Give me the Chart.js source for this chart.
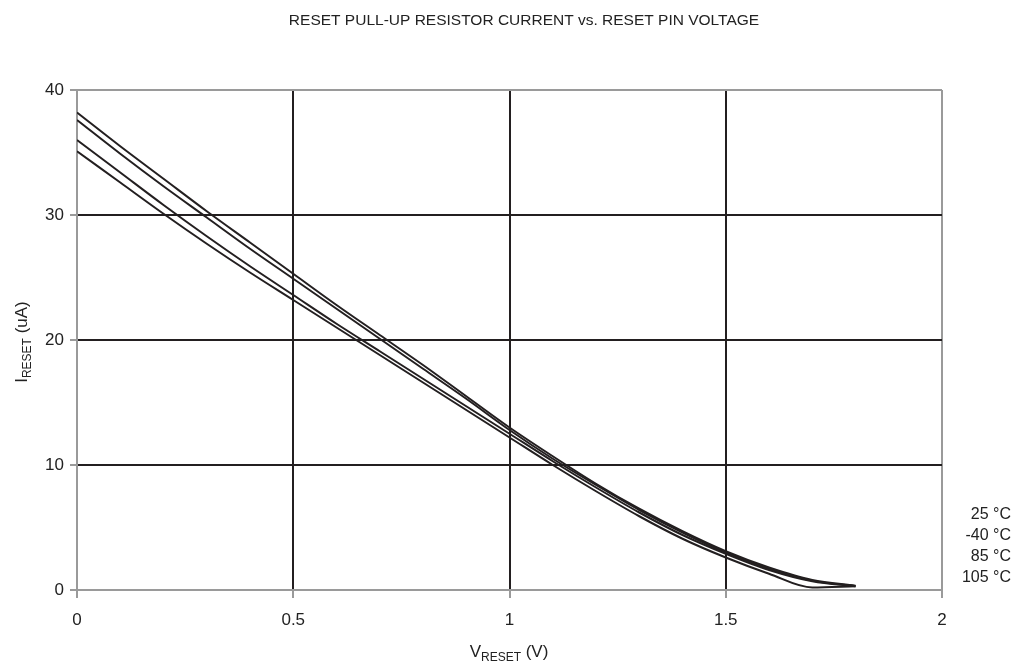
<!DOCTYPE html>
<html>
<head>
<meta charset="utf-8">
<script src="https://cdn.jsdelivr.net/npm/chart.js@4"></script>
<style>
  html, body { margin: 0; padding: 0; background: #fff; }
  #wrap { width: 1016px; height: 667px; position: relative; }
</style>
</head>
<body>
<div id="wrap"><canvas id="chart" width="1016" height="667"></canvas></div>
<script>
const chartTitle = 'RESET PULL-UP RESISTOR CURRENT vs. RESET PIN VOLTAGE';
const voltage = [0, 0.1, 0.2, 0.3, 0.4, 0.5, 0.6, 0.7, 0.8, 0.9, 1.0, 1.1, 1.2, 1.3, 1.4, 1.5, 1.6, 1.7, 1.8];
const seriesNames = ['25 °C', '-40 °C', '85 °C', '105 °C'];
const current25 = [37.6, 34.9, 32.3, 29.8, 27.3, 24.9, 22.5, 20.1, 17.7, 15.3, 12.8, 10.5, 8.4, 6.4, 4.6, 3.0, 1.7, 0.75, 0.3];
const currentM40 = [38.2, 35.5, 32.9, 30.3, 27.8, 25.3, 22.8, 20.4, 18.0, 15.5, 13.0, 10.7, 8.5, 6.5, 4.7, 3.1, 1.8, 0.8, 0.35];
const current85 = [36.0, 33.4, 30.8, 28.3, 25.9, 23.6, 21.3, 19.1, 16.9, 14.7, 12.5, 10.3, 8.2, 6.2, 4.4, 2.9, 1.6, 0.7, 0.3];
const current105 = [35.1, 32.6, 30.1, 27.7, 25.4, 23.2, 21.0, 18.8, 16.6, 14.4, 12.2, 10.0, 7.9, 5.9, 4.1, 2.6, 1.3, 0.2, 0.3];
const xTicks = [0, 0.5, 1, 1.5, 2];
const yTicks = [0, 10, 20, 30, 40];

const FONT = '"Liberation Sans", Arial, sans-serif';
const allSeries = [current25, currentM40, current85, current105];

// title, axis titles with subscripts, and the right-hand labels
const textPlugin = {
  id: 'texts',
  afterDraw(chart) {
    const ctx = chart.ctx;
    const area = chart.chartArea;
    ctx.save();
    ctx.fillStyle = '#222';
    ctx.textBaseline = 'alphabetic';

    ctx.font = `15.5px ${FONT}`;
    ctx.textAlign = 'center';
    ctx.fillText(chartTitle, 524, 25);

    // x axis title: V_RESET (V)
    const xParts = [['V', 17, 0], ['RESET', 12, 4], [' (V)', 17, 0]];
    drawParts(ctx, xParts, 509, 657);

    // y axis title, rotated
    ctx.translate(27, 342);
    ctx.rotate(-Math.PI / 2);
    const yParts = [['I', 17, 0], ['RESET', 12, 4], [' (uA)', 17, 0]];
    drawParts(ctx, yParts, 0, 0);
    ctx.setTransform(1, 0, 0, 1, 0, 0);

    ctx.font = `16px ${FONT}`;
    ctx.textAlign = 'right';
    seriesNames.forEach((name, i) => {
      ctx.fillText(name, 1011, 519 + i * 21);
    });
    ctx.restore();
  }
};

function drawParts(ctx, parts, cx, baseY) {
  let total = 0;
  parts.forEach(([t, size]) => { ctx.font = `${size}px ${FONT}`; total += ctx.measureText(t).width; });
  let x = cx - total / 2;
  ctx.textAlign = 'left';
  parts.forEach(([t, size, drop]) => {
    ctx.font = `${size}px ${FONT}`;
    ctx.fillText(t, x, baseY + drop);
    x += ctx.measureText(t).width;
  });
}

const edgeGrey = '#9a9a9a';
const gridDark = '#231f20';

new Chart(document.getElementById('chart'), {
  type: 'line',
  data: {
    datasets: allSeries.map((vals, i) => ({
      label: seriesNames[i],
      data: voltage.map((v, j) => ({ x: v, y: vals[j] })),
      borderColor: '#231f20',
      borderWidth: 2,
      pointRadius: 0,
      fill: false,
      cubicInterpolationMode: 'monotone'
    }))
  },
  options: {
    responsive: false,
    animation: false,
    layout: { padding: { top: 90, right: 74, left: 0, bottom: 0 } },
    plugins: { legend: { display: false }, title: { display: false }, tooltip: { enabled: false } },
    scales: {
      x: {
        type: 'linear',
        min: 0, max: 2,
        afterBuildTicks: (s) => { s.ticks = xTicks.map((v) => ({ value: v })); },
        afterFit: (s) => { s.height = 77; },
        ticks: { color: '#222', font: { family: FONT, size: 17 }, padding: 12, callback: (v) => String(v) },
        grid: {
          color: (c) => (c.tick && (c.tick.value === 0 || c.tick.value === 2) ? edgeGrey : gridDark),
          lineWidth: 2,
          tickLength: 8,
          tickColor: edgeGrey
        },
        border: { color: edgeGrey, width: 2 }
      },
      y: {
        min: 0, max: 40,
        afterBuildTicks: (s) => { s.ticks = yTicks.map((v) => ({ value: v })); },
        afterFit: (s) => { s.width = 77; },
        ticks: { color: '#222', font: { family: FONT, size: 17 }, padding: 6 },
        grid: {
          color: (c) => (c.tick && (c.tick.value === 0 || c.tick.value === 40) ? edgeGrey : gridDark),
          lineWidth: 2,
          tickLength: 7,
          tickColor: edgeGrey
        },
        border: { color: edgeGrey, width: 2 }
      }
    }
  },
  plugins: [textPlugin]
});
</script>
</body>
</html>
